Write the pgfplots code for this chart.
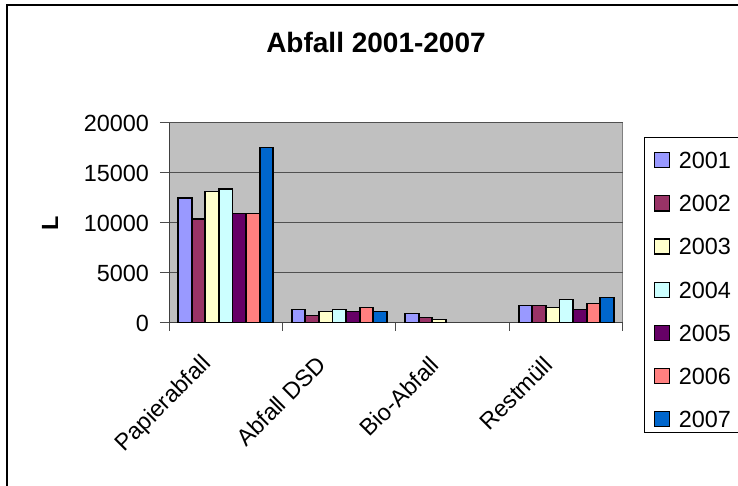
\documentclass[border=0pt]{standalone}
\usepackage{fontspec}
\setmainfont{Liberation Sans}
\usepackage{pgfplots}
\pgfplotsset{compat=1.18}

\definecolor{cA}{HTML}{9999FF}
\definecolor{cB}{HTML}{993366}
\definecolor{cC}{HTML}{FFFFCC}
\definecolor{cD}{HTML}{CCFFFF}
\definecolor{cE}{HTML}{660066}
\definecolor{cF}{HTML}{FF8080}
\definecolor{cG}{HTML}{0066CC}
\definecolor{plotbg}{HTML}{C0C0C0}
\definecolor{gridc}{HTML}{505050}

\pgfplotsset{
  sqleg/.style={legend image code/.code={%
    \draw[##1, line width=0.6pt] (0pt,0.45pt) rectangle (7.5pt,7.95pt);}},
}
\newcommand{\yr}[1]{\makebox[34pt][l]{#1}}

\begin{document}
\begin{tikzpicture}
\draw[line width=0.6pt] (3.5pt,0) -- (3.5pt,240.5pt) -- (369pt,240.5pt);
\node[anchor=base, font=\fontsize{14}{16}\selectfont\bfseries] at (188pt,216.5pt) {Abfall 2001-2007};
\begin{axis}[
  at={(84.5pt,81.5pt)}, anchor=south west,
  scale only axis, width=227pt, height=100pt,
  ybar=0pt, bar width=6.8pt,
  xmin=-0.5, xmax=3.5, ymin=0, ymax=20000,
  xtick={0,1,2,3},
  xticklabels={Papierabfall, Abfall DSD, Bio-Abfall, Restmüll},
  minor xtick={-0.5,0.5,1.5,2.5,3.5},
  ytick={0,5000,10000,15000,20000},
  scaled y ticks=false,
  /pgf/number format/1000 sep={},
  /pgf/number format/assume math mode=true,
  tick align=outside, tick pos=left,
  major tick length=4.5pt, minor tick length=4pt,
  major x tick style={draw=none},
  minor x tick style={draw=black!70, line width=0.5pt},
  major y tick style={draw=black!70, line width=0.5pt},
  ymajorgrids,
  grid style={draw=gridc, line width=0.5pt},
  axis x line*=bottom, axis y line*=left,
  axis line style={draw=black!75, line width=0.5pt},
  axis background/.style={fill=plotbg, draw=gray, line width=0.5pt},
  tick label style={font=\fontsize{11.7}{14}\selectfont},
  yticklabel style={anchor=east, xshift=-2pt},
  xticklabel style={xshift=-6.5pt, rotate=45, anchor=east},
  xticklabel shift=12pt,
  ylabel={L},
  ylabel style={at={(axis description cs:-0.262,0.5)}, anchor=center, font=\fontsize{11.7}{14}\selectfont\bfseries},
  legend style={at={(axis description cs:1.0463,0.93)}, anchor=north west,
    draw=black, line width=0.6pt, fill=white,
    inner xsep=4.5pt, inner ysep=2.5pt,
    row sep=8.6pt, column sep=4.5pt,
    nodes={inner sep=0pt, text height=13pt, text depth=0pt, anchor=base west},
    font=\fontsize{11.7}{14}\selectfont},
  legend cell align=left,
  every axis plot/.append style={draw=black, line width=0.9pt},
]
\addplot[fill=cA, sqleg] coordinates {(0,12500) (1,1350) (2,950) (3,1750)};
\addplot[fill=cB, sqleg] coordinates {(0,10400) (1,750) (2,550) (3,1750)};
\addplot[fill=cC, sqleg] coordinates {(0,13150) (1,1150) (2,350) (3,1550)};
\addplot[fill=cD, sqleg] coordinates {(0,13400) (1,1350) (3,2350)};
\addplot[fill=cE, sqleg] coordinates {(0,10950) (1,1150) (3,1350)};
\addplot[fill=cF, sqleg] coordinates {(0,10950) (1,1550) (3,1950)};
\addplot[fill=cG, sqleg] coordinates {(0,17550) (1,1150) (3,2550)};
\legend{\yr{2001},\yr{2002},\yr{2003},\yr{2004},\yr{2005},\yr{2006},\yr{2007}}
\end{axis}
\pgfresetboundingbox
\useasboundingbox (0,0) rectangle (369pt,243pt);
\end{tikzpicture}
\end{document}
